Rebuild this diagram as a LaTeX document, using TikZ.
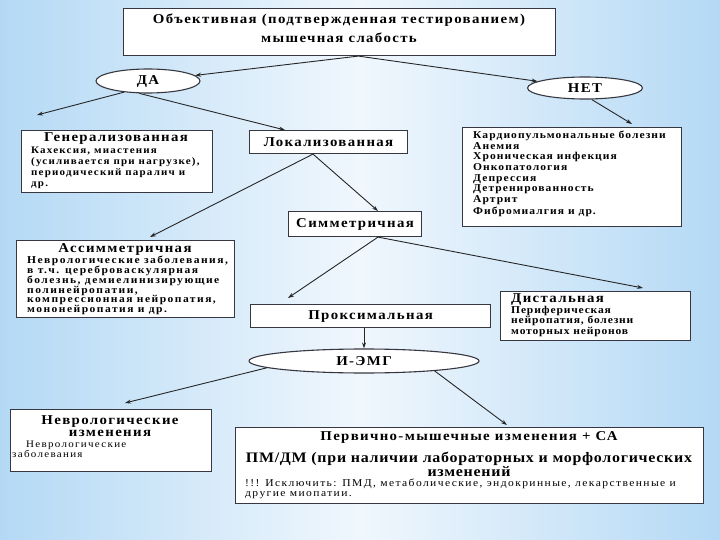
\documentclass[tikz,border=0pt]{standalone}
\usepackage{fontspec}
\setmainfont{Liberation Serif}
\newfontfamily\ttlf[FakeStretch=1.1,LetterSpace=10]{Liberation Serif}
\newfontfamily\bdyf[FakeStretch=1.1]{Liberation Serif}
\usetikzlibrary{shapes.geometric,arrows.meta,calc}
\definecolor{bgblue}{RGB}{180,217,245}
\definecolor{bgwhite}{RGB}{240,247,253}
\definecolor{edge}{RGB}{55,55,65}
\begin{document}
\begin{tikzpicture}[x=1pt,y=-1pt,
  box/.style={draw=edge,line width=1.1pt,fill=white,inner sep=0pt,anchor=north west},
  oval/.style={ellipse,draw=edge,line width=1.1pt,fill=white,inner sep=0pt},
  arr/.style={-{Stealth[length=6pt,width=4pt]},line width=0.9pt,draw=black!85},
  ttlfont/.style={font=\ttlf\bfseries\fontsize{13.5}{15}\selectfont},
  ttl/.style={inner sep=0pt,ttlfont},
  bdy/.style={inner sep=0pt,align=left,anchor=north west},
]
\useasboundingbox (0,0) rectangle (720,540);
\shade[left color=bgblue,right color=bgblue,middle color=bgwhite] (0,0) rectangle (720,540);

% boxes
\node[box,minimum width=432pt,minimum height=47pt] (top) at (123,8) {};
\node[ttl,align=center] (toptxt) at (339,28) {Объективная (подтвержденная тестированием)\\[4pt]мышечная слабость};

\node[oval,minimum width=104pt,minimum height=24pt,ttlfont] (da) at (148,81) {ДА};
\node[oval,minimum width=115pt,minimum height=22pt,ttlfont] (net) at (585,88) {НЕТ};

\node[box,minimum width=191pt,minimum height=62pt] (gen) at (21,130) {};
\node[ttl] (gentxt) at (116,139) {Генерализованная};
\node[bdy,font=\bdyf\bfseries\addfontfeature{LetterSpace=12}\fontsize{10}{11}\selectfont] (genbody) at (31,147) {Кахексия, миастения\\(усиливается при нагрузке),\\периодический паралич и\\др.};

\node[box,minimum width=158pt,minimum height=23pt,ttlfont] (lok) at (249,130) {Локализованная};

\node[box,minimum width=219pt,minimum height=99pt] (list) at (462,127) {};
\node[bdy,font=\bdyf\bfseries\addfontfeature{LetterSpace=10}\fontsize{10.5}{10.6}\selectfont] (listbody) at (473,131) {Кардиопульмональные болезни\\Анемия\\Хроническая инфекция\\Онкопатология\\Депрессия\\Детренированность\\Артрит\\[2pt]Фибромиалгия и др.};

\node[box,minimum width=133pt,minimum height=25pt,ttlfont] (sym) at (288,211) {Симметричная};

\node[box,minimum width=218pt,minimum height=77pt] (asym) at (16,240) {};
\node[ttl] (asymtxt) at (125,249) {Ассимметричная};
\node[bdy,font=\bdyf\bfseries\addfontfeature{LetterSpace=14}\fontsize{10.5}{9.8}\selectfont] (asymbody) at (27,256) {Неврологические заболевания,\\в т.ч. цереброваскулярная\\болезнь, демиелинизирующие\\полинейропатии,\\компрессионная нейропатия,\\мононейропатия и др.};

\node[box,minimum width=240pt,minimum height=23pt,ttlfont] (prox) at (250,304) {Проксимальная};

\node[box,minimum width=190pt,minimum height=49pt] (dist) at (500,291) {};
\node[ttl,anchor=west] (disttxt) at (511,300) {Дистальная};
\node[bdy,font=\bdyf\bfseries\addfontfeature{LetterSpace=8}\fontsize{10.5}{10.5}\selectfont] (distbody) at (511,306) {Периферическая\\нейропатия, болезни\\моторных нейронов};

\node[oval,minimum width=230pt,minimum height=24pt,ttlfont] (emg) at (364,361) {И-ЭМГ};

\node[box,minimum width=201pt,minimum height=62pt] (neur) at (10,409) {};
\node[ttl,align=center,font=\ttlf\bfseries\fontsize{13.5}{12}\selectfont] (neurtxt) at (110,426) {Неврологические\\изменения};
\node[bdy,font=\bdyf\addfontfeature{LetterSpace=13}\fontsize{10}{9.5}\selectfont] (neurbody) at (12,441) {\hspace*{14pt}Неврологические\\заболевания};

\node[box,minimum width=468pt,minimum height=76pt] (prim) at (235,427) {};
\node[ttl] (primtxt) at (469,437) {Первично-мышечные изменения + СА};
\node[ttl,align=center,font=\ttlf\bfseries\addfontfeature{LetterSpace=5}\fontsize{14.5}{12}\selectfont] (primtxt2) at (469,464) {ПМ/ДМ (при наличии лабораторных и морфологических\\изменений};
\node[bdy,font=\bdyf\addfontfeature{LetterSpace=13.5}\fontsize{10.5}{9.5}\selectfont] (primbody) at (245,479) {!!! Исключить: ПМД, метаболические, эндокринные, лекарственные и\\другие миопатии.};

% connectors
\coordinate (genin) at (37,115);
\draw[arr] (top.-52.5) -- (da);
\draw[arr] (top.-52.5) -- (net);
\draw[arr] (da.-155) -- (genin);
\draw[arr] (da.-125) -- ($(lok.north west)+(36,0)$);
\draw[arr] (net.-60) -- ($(list.north west)+(170,-3)$);
\draw[arr] ($(lok.south west)+(64,0)$) -- ($(sym.north west)+(90,0)$);
\draw[arr] ($(lok.south west)+(64,0)$) -- ($(asym.north west)+(134,-3)$);
\draw[arr] ($(sym.south west)+(90,0)$) -- ($(prox.north west)+(38,-6)$);
\draw[arr] ($(sym.south west)+(90,0)$) -- ($(dist.north west)+(143,-3)$);
\draw[arr] (prox.south -| emg.north) -- (emg.north);
\draw[arr] (emg.-176) -- ($(neur.north west)+(115,-6)$);
\draw[arr] (emg.-8.5) -- ($(prim.north west)+(272,-2)$);
\end{tikzpicture}
\end{document}
